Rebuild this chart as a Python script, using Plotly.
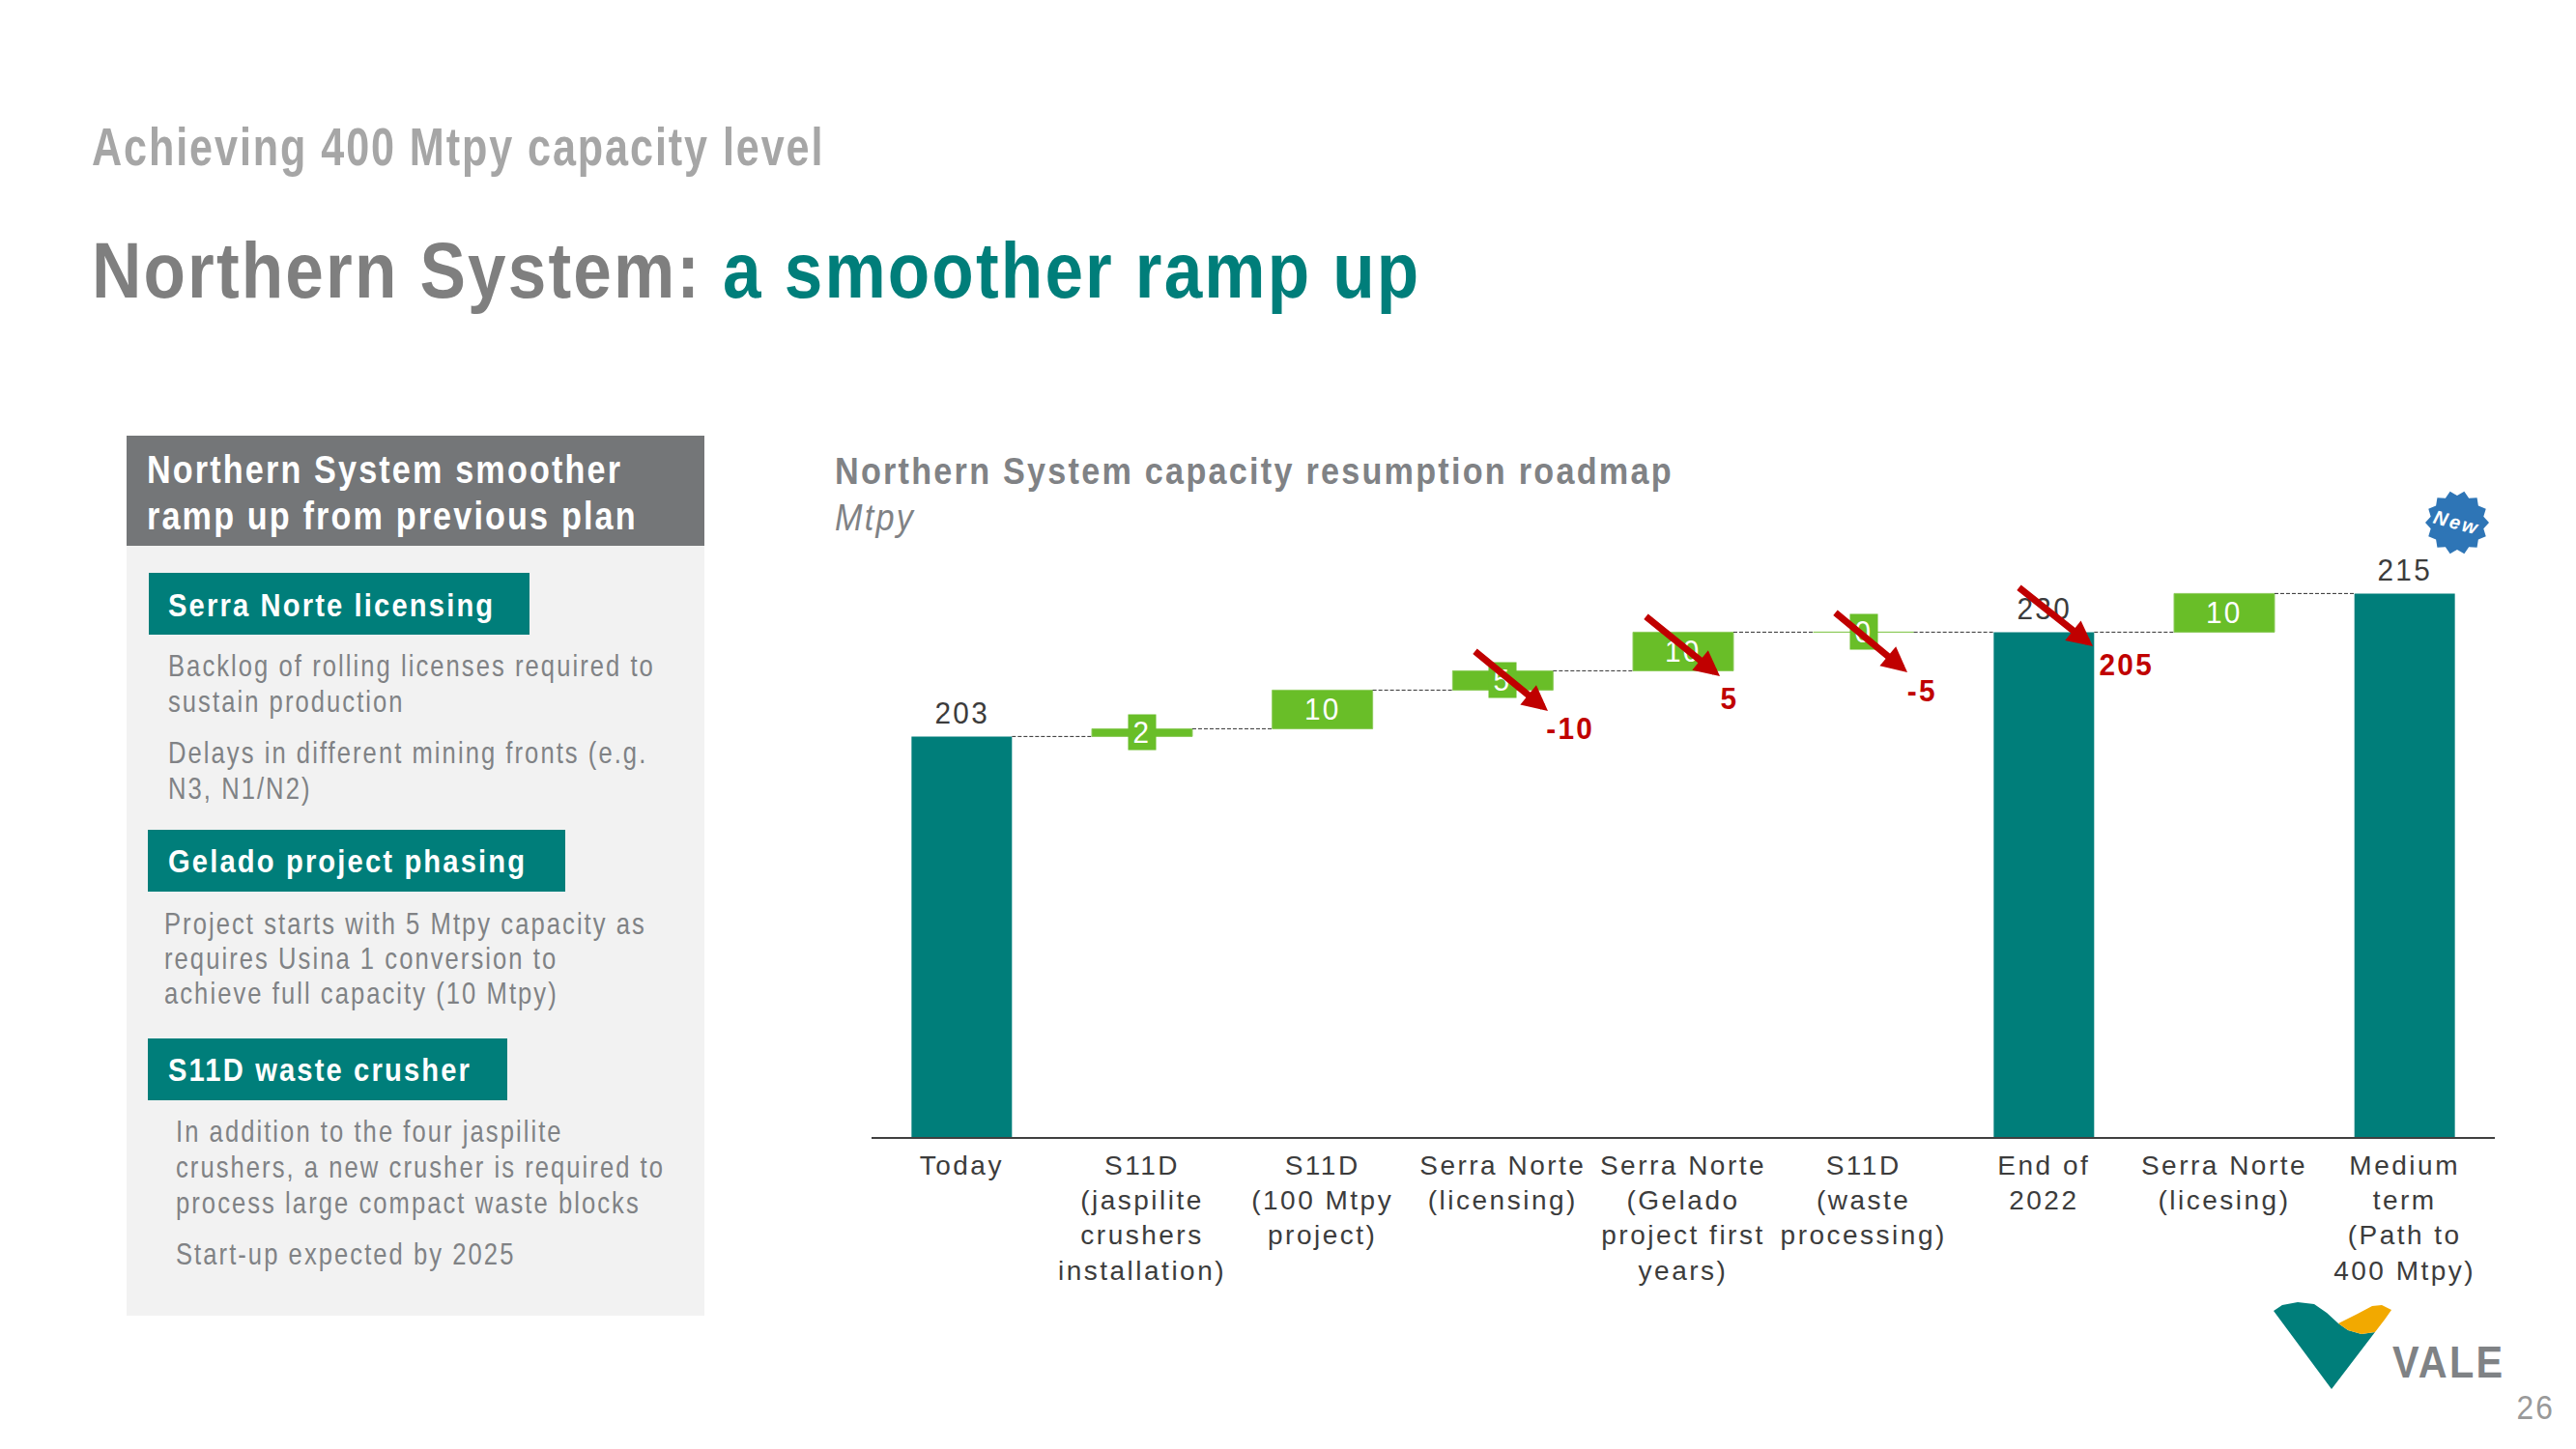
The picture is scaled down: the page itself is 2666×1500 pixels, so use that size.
import math
import plotly.graph_objects as go

W, H = 2666, 1500
FONT = "Liberation Sans, Arial, sans-serif"
TEAL, GREEN, RED = "#007E7A", "#69BE28", "#C00000"
GREY, DARK = "#808285", "#3C3C3C"

categories = ["Today", "S11D<br>(jaspilite<br>crushers<br>installation)", "S11D<br>(100 Mtpy<br>project)",
              "Serra Norte<br>(licensing)", "Serra Norte<br>(Gelado<br>project first<br>years)",
              "S11D<br>(waste<br>processing)", "End of<br>2022", "Serra Norte<br>(licesing)",
              "Medium<br>term<br>(Path to<br>400 Mtpy)"]
total_heights = [203, None, None, None, None, None, 230, None, 240]
total_labels = ["203", None, None, None, None, None, "230", None, "215"]
step_values = [None, 2, 10, 5, 10, 0, None, 10, None]
step_bases = [None, 203, 205, 215, 220, 230, None, 230, None]
step_labels = [None, "2", "10", "5", "10", "0", None, "10", None]
connector_levels = [203, 205, 215, 220, 230, 230, 230, 240]
revised_labels = ["-10", "5", "-5", "205"]


def px(x):
    return x / W


def py(y):
    return 1 - y / H


idx = list(range(len(categories)))
fig = go.Figure()
fig.add_bar(x=idx, y=total_heights, width=0.557, marker_color=TEAL, marker_line_width=0, name="Level")
fig.add_bar(x=idx, y=step_values, base=step_bases, width=0.557, marker_color=GREEN,
            marker_line=dict(color="#8CCB5A", width=1), name="Step")

ann = []


def text(x, y, s, size, color=GREY, bold=False, italic=False, anchor="left", **kw):
    ann.append(dict(x=px(x), y=py(y), xref="paper", yref="paper", text=s, showarrow=False,
                    xanchor=anchor, yanchor="middle", align=anchor,
                    font=dict(family=FONT, size=size, color=color,
                              weight="bold" if bold else "normal",
                              style="italic" if italic else "normal"), **kw))


shapes = []


def rect(x0, y0, x1, y1, color):
    shapes.append(dict(type="rect", xref="paper", yref="paper", x0=px(x0), x1=px(x1), y0=py(y1), y1=py(y0),
                       fillcolor=color, line_width=0, layer="below"))


def poly(points, color):
    d = "M" + " L".join(f"{px(a):.5f},{py(b):.5f}" for a, b in points) + " Z"
    shapes.append(dict(type="path", xref="paper", yref="paper", path=d, fillcolor=color, line_width=0))


half = 0.557 / 2
for i, lv in enumerate(connector_levels):
    shapes.append(dict(type="line", xref="x", yref="y", x0=i + half, x1=i + 1 - half, y0=lv, y1=lv,
                       line=dict(color="#303030", width=1, dash="4px,2px")))

text(93, 151, "Achieving 400 Mtpy capacity level", 56, "#A6A6A6", bold=True)
ann.append(dict(x=px(93), y=py(280), xref="paper", yref="paper", showarrow=False, xanchor="left", yanchor="middle",
                align="left", text=f'Northern System: <span style="color:{TEAL}">a smoother ramp up</span>',
                font=dict(family=FONT, size=82, color="#7F7F7F", weight="bold")))

rect(131, 565, 729, 1362, "#F2F2F2")
rect(131, 451, 729, 565, "#747678")
rect(154, 593, 548, 657, TEAL)
rect(153, 859, 585, 923, TEAL)
rect(153, 1075, 525, 1139, TEAL)
text(150, 486, "Northern System smoother", 40, "white", bold=True)
text(150, 534, "ramp up from previous plan", 40, "white", bold=True)
text(172, 626, "Serra Norte licensing", 34, "white", bold=True)
text(172, 891, "Gelado project phasing", 34, "white", bold=True)
text(172, 1107, "S11D waste crusher", 34, "white", bold=True)
for x, y, s in [(172, 689, "Backlog of rolling licenses required to"), (172, 726, "sustain production"),
                (172, 779, "Delays in different mining fronts (e.g."), (172, 816, "N3, N1/N2)"),
                (168, 956, "Project starts with 5 Mtpy capacity as"), (168, 992, "requires Usina 1 conversion to"),
                (168, 1028, "achieve full capacity (10 Mtpy)"),
                (180, 1171, "In addition to the four jaspilite"), (180, 1208, "crushers, a new crusher is required to"),
                (180, 1245, "process large compact waste blocks"), (180, 1298, "Start-up expected by 2025")]:
    text(x, y, s, 31, GREY)

text(862, 488, "Northern System capacity resumption roadmap", 38, GREY, bold=True)
text(862, 536, "Mtpy", 38, GREY, italic=True)

for i, lab in enumerate(total_labels):
    if lab:
        ann.append(dict(x=i, y=total_heights[i], xref="x", yref="y", text=lab, showarrow=False, yanchor="middle",
                        yshift=24, font=dict(family=FONT, size=32, color=DARK)))
for i, lab in enumerate(step_labels):
    if lab:
        mid = step_bases[i] + step_values[i] / 2
        small = step_values[i] < 10
        ann.append(dict(x=i, y=mid, xref="x", yref="y", text=lab, showarrow=False, yanchor="middle",
                        font=dict(family=FONT, size=32, color="white"),
                        **(dict(bgcolor=GREEN, width=28, height=36, borderpad=0) if small else {})))

for (x, y), lab in zip([(1625, 754), (1790, 723), (1989, 715), (2200, 688)], revised_labels):
    text(x, y, lab, 32, RED, bold=True, anchor="center")
for (x0, y0), (x1, y1) in [((1525, 673), (1602, 736)), ((1702, 637), (1780, 700)),
                           ((1898, 633), (1974, 696)), ((2088, 607), (2166, 669))]:
    ann.append(dict(x=px(x1), y=py(y1), xref="paper", yref="paper", ax=x0 - x1, ay=y0 - y1, text="", showarrow=True,
                    arrowhead=2, arrowsize=0.75, arrowwidth=7, arrowcolor=RED, standoff=0))

cx, cy = 2543, 541
star = []
for k in range(28):
    r = 33 if k % 2 == 0 else 28
    a = math.pi * k / 14
    star.append((cx + r * math.cos(a), cy + r * math.sin(a)))
poly(star, "#2E75B6")
ann.append(dict(x=px(cx), y=py(cy), xref="paper", yref="paper", text="New", showarrow=False, textangle=15,
                xanchor="center", yanchor="middle",
                font=dict(family=FONT, size=20, color="white", weight="bold", style="italic")))

poly([(2353, 1357), (2362, 1351), (2378, 1348), (2395, 1350), (2408, 1359), (2420, 1370), (2430, 1377), (2444, 1381),
      (2458, 1379), (2413, 1438)], TEAL)
poly([(2420, 1370), (2440, 1360), (2455, 1352), (2465, 1351), (2475, 1356), (2468, 1366), (2458, 1379),
      (2444, 1381), (2430, 1377)], "#F2A900")
text(2474, 1410, "VALE", 46, "#7F8285", bold=True)
text(2646, 1456, "26", 36, "#999999", anchor="right")

fig.update_layout(
    width=W, height=H, margin=dict(l=0, r=0, t=0, b=0), autosize=False,
    paper_bgcolor="white", plot_bgcolor="white", showlegend=False, barmode="overlay",
    font=dict(family=FONT, color=DARK), annotations=ann, shapes=shapes,
    xaxis=dict(domain=[902 / W, 2582 / W], range=[-0.5, 8.5], tickmode="array", tickvals=idx, ticktext=categories,
               tickangle=0, showgrid=False, zeroline=False, showline=True, linecolor="#404040", linewidth=2,
               ticks="", automargin=False, ticklabelstandoff=3, tickfont=dict(family=FONT, size=28, color=DARK)),
    yaxis=dict(domain=[1 - 1177 / H, 1 - 577 / H], range=[99.35, 249.35], visible=False, automargin=False),
)

fig.write_html("out.html", config=dict(displayModeBar=False), post_script="""
document.body.style.margin='0';
var st=document.createElement('style');
st.textContent='.annotation-text{letter-spacing:2.5px}.xtick text{letter-spacing:2.5px}';
document.head.appendChild(st);
var squeeze={56:.77,82:.867,40:.855,34:.858,31:.825,38:.90,32:.93,36:.88,46:.90};
document.querySelectorAll('.annotation-text').forEach(function(t){
  var k=squeeze[Math.round(parseFloat(t.style.fontSize))];
  if(!k)return;
  var x=parseFloat(t.getAttribute('x'))||0;
  var old=t.getAttribute('transform')||'';
  t.setAttribute('transform',old+' translate('+x+' 0) scale('+k+' 1) translate('+(-x)+' 0)');
});
""")
